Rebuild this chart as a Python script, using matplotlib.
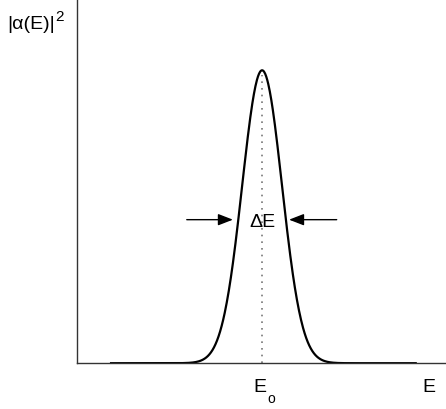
import numpy as np
import matplotlib
matplotlib.use("Agg")
import matplotlib.pyplot as plt

# values (energy in arbitrary units, axis 0..10)
e_center = 5.02          # E_o, peak position
e_fwhm = 1.27            # width at half height (Delta E)
e_start, e_end = 0.90, 9.21   # extent of the drawn curve
peak_height = 1.0
y_top = 1.24

arrow_y = 0.49
label_y = 0.464
left_arrow = (2.98, 4.23)    # tail, head
right_arrow = (7.04, 5.75)   # tail, head

plt.rcParams['font.family'] = ['Liberation Sans', 'DejaVu Sans']

W, H = 446, 409
fig = plt.figure(figsize=(W / 100, H / 100), dpi=100)
ax = fig.add_axes([0.172, 0.112, 0.828, 0.888])

# Gaussian line shape |a(E)|^2
sigma = e_fwhm / (2 * np.sqrt(2 * np.log(2)))
e = np.linspace(e_start, e_end, 600)
amp = peak_height * np.exp(-0.5 * ((e - e_center) / sigma) ** 2)
ax.plot(e, amp, color='black', linewidth=1.6, solid_capstyle='butt')

# dotted centre line
ax.plot([e_center, e_center], [0, peak_height * 0.985], color='#777777',
        linestyle=(0, (1, 3)), linewidth=1.2)

# width arrows
for tail, head in (left_arrow, right_arrow):
    ax.annotate('', xy=(head, arrow_y), xytext=(tail, arrow_y),
                arrowprops=dict(arrowstyle='-|>,head_length=0.9,head_width=0.35',
                                color='black', linewidth=1.0,
                                shrinkA=0, shrinkB=0))
ax.text(e_center, label_y, '\u0394E', ha='center', va='baseline', fontsize=14)

ax.set_xlim(0, 10)
ax.set_ylim(0, y_top)
ax.set_xticks([])
ax.set_yticks([])
for side in ('top', 'right'):
    ax.spines[side].set_visible(False)
for side in ('left', 'bottom'):
    ax.spines[side].set_color('#333333')
    ax.spines[side].set_linewidth(1.0)

# axis labels placed like the original sketch
fig.text(7 / W, 1 - 29 / H, '|\u03b1(E)|', fontsize=14, ha='left', va='baseline')
fig.text(55 / W, 1 - 21 / H, '2', fontsize=11, ha='left', va='baseline')
fig.text(253 / W, 1 - 392 / H, 'E', fontsize=14, ha='left', va='baseline')
fig.text(267 / W, 1 - 403 / H, 'o', fontsize=10, ha='left', va='baseline')
fig.text(422 / W, 1 - 392 / H, 'E', fontsize=14, ha='left', va='baseline')

fig.savefig('out.png', dpi=100)
